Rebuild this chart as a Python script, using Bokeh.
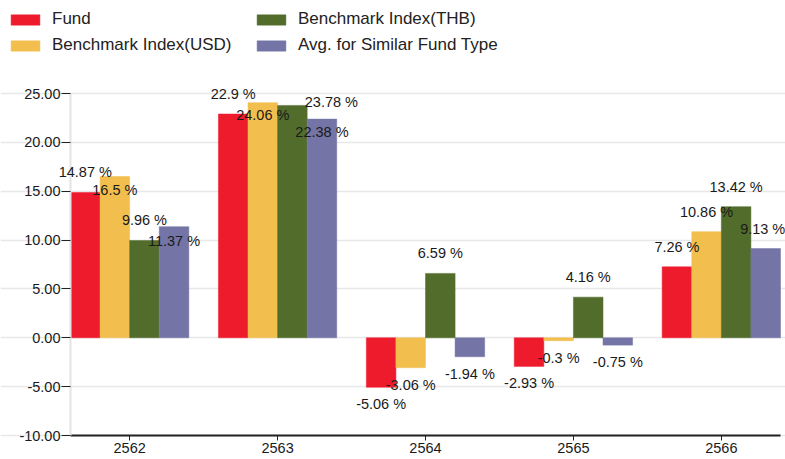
from bokeh.plotting import figure
from bokeh.models import (ColumnDataSource, Range1d, FixedTicker, NumeralTickFormatter,
                          LabelSet, Legend, LegendItem)
from bokeh.core.properties import value
from bokeh.transform import dodge
from bokeh.embed import file_html
from bokeh.resources import INLINE

# ---- data ----
years = ["2562", "2563", "2564", "2565", "2566"]
fund = [14.87, 22.9, -5.06, -2.93, 7.26]
bench_usd = [16.5, 24.06, -3.06, -0.3, 10.86]
bench_thb = [9.96, 23.78, 6.59, 4.16, 13.42]
avg_similar = [11.37, 22.38, -1.94, -0.75, 9.13]
y_ticks = [-10, -5, 0, 5, 10, 15, 20, 25]

series_names = ["Fund", "Benchmark Index(USD)", "Benchmark Index(THB)", "Avg. for Similar Fund Type"]
series_values = [fund, bench_usd, bench_thb, avg_similar]
colors = ["#EE1B2D", "#F2BF4E", "#526C2C", "#7474A6"]
offsets = [-0.3, -0.1, 0.1, 0.3]

# label nudges (pixels) where the original chart moved colliding labels: (series, year) -> (dx, dy)
label_nudges = {(1, 0): (0, -13), (3, 0): (0, -14), (1, 1): (0, -12),
                (2, 1): (39, 3), (3, 1): (0, -13), (3, 4): (-3, 20)}

FONT = "Liberation Sans"

# ---- layout (pixels) ----
W, H = 785, 459
AX_LEFT, AX_RIGHT, AX_TOP, AX_BOTTOM = 70, 780, 93, 435   # visible axes box
X_LO, X_HI = -0.4, len(years) - 1 + 0.4
Y_LO, Y_HI = y_ticks[0], y_ticks[-1]
xpx = (AX_RIGHT - AX_LEFT) / (X_HI - X_LO)
ypx = (AX_BOTTOM - AX_TOP) / (Y_HI - Y_LO)
# the drawing frame covers the whole picture so that labels may overflow the axes box
x_range = Range1d(X_LO - AX_LEFT / xpx, X_HI + (W - AX_RIGHT) / xpx)
y_range = Range1d(Y_LO - (H - AX_BOTTOM) / ypx, Y_HI + AX_TOP / ypx)

p = figure(width=W, height=H, output_backend="svg", toolbar_location=None,
           x_range=x_range, y_range=y_range,
           min_border_left=0, min_border_top=0, min_border_right=0, min_border_bottom=0)
p.outline_line_color = None
p.background_fill_color = "white"
p.border_fill_color = "white"

renderers = []
for si, (name, vals, col, off) in enumerate(zip(series_names, series_values, colors, offsets)):
    dxs, dys = [], []
    for yi, v in enumerate(vals):
        dx, dy = 0, (20 if v >= 0 else -17)
        if (si, yi) in label_nudges:
            dx, dy = label_nudges[(si, yi)]
        dxs.append(dx)
        dys.append(dy)
    src = ColumnDataSource(dict(x=list(range(len(years))), v=vals,
                                t=[f"{v} %" for v in vals], dx=dxs, dy=dys))
    r = p.vbar(x=dodge("x", off, range=p.x_range), top="v", bottom=0, width=0.2,
               source=src, fill_color=col, line_color=col, line_width=0.5)
    renderers.append(r)
    labels = LabelSet(x=dodge("x", off, range=p.x_range), y="v", text="t", source=src,
                      x_offset="dx", y_offset="dy", text_align="center",
                      text_baseline="middle", text_font=value(FONT),
                      text_font_size=value("14.5px"), text_color=value("#1a1a1a"))
    p.add_layout(labels)

# axes
p.xaxis.ticker = FixedTicker(ticks=list(range(len(years))))
p.xaxis.major_label_overrides = {i: y for i, y in enumerate(years)}
p.xaxis.fixed_location = Y_LO
p.xaxis.bounds = (X_LO, X_HI)
p.xaxis.axis_line_color = "#222222"
p.xaxis.axis_line_width = 2
p.xaxis.major_tick_line_color = "#222222"
p.xaxis.major_tick_out = 5
p.xaxis.major_tick_in = 0
p.xaxis.minor_tick_line_color = None
p.xaxis.major_label_standoff = 2
p.xaxis.major_label_text_font = FONT
p.xaxis.major_label_text_font_size = "14.5px"
p.xaxis.major_label_text_color = "#1a1a1a"

p.yaxis.ticker = FixedTicker(ticks=y_ticks)
p.yaxis.formatter = NumeralTickFormatter(format="0.00")
p.yaxis.fixed_location = X_LO
p.yaxis.bounds = (Y_LO, Y_HI)
p.yaxis.axis_line_color = "#e4e4e4"
p.yaxis.axis_line_width = 2
p.yaxis.major_tick_line_color = "#222222"
p.yaxis.major_tick_out = 9
p.yaxis.major_tick_in = 0
p.yaxis.minor_tick_line_color = None
p.yaxis.major_label_standoff = 1
p.yaxis.major_label_text_font = FONT
p.yaxis.major_label_text_font_size = "14.5px"
p.yaxis.major_label_text_color = "#1a1a1a"

p.xgrid.grid_line_color = None
p.ygrid.grid_line_color = "#e8e8e8"
p.ygrid.grid_line_width = 1.5
p.ygrid.bounds = (X_LO, X_HI)

legend = Legend(items=[LegendItem(label=n, renderers=[r]) for n, r in zip(series_names, renderers)],
                location=(7, H - 55), nrows=2, glyph_width=36, glyph_height=13,
                label_standoff=9, label_width=195, label_height=20, spacing=6,
                padding=0, margin=0, border_line_color=None, background_fill_alpha=0,
                label_text_font=FONT, label_text_font_size="17px", label_text_color="#222222")
p.add_layout(legend)

open("out.html", "w").write(file_html(p, INLINE))
